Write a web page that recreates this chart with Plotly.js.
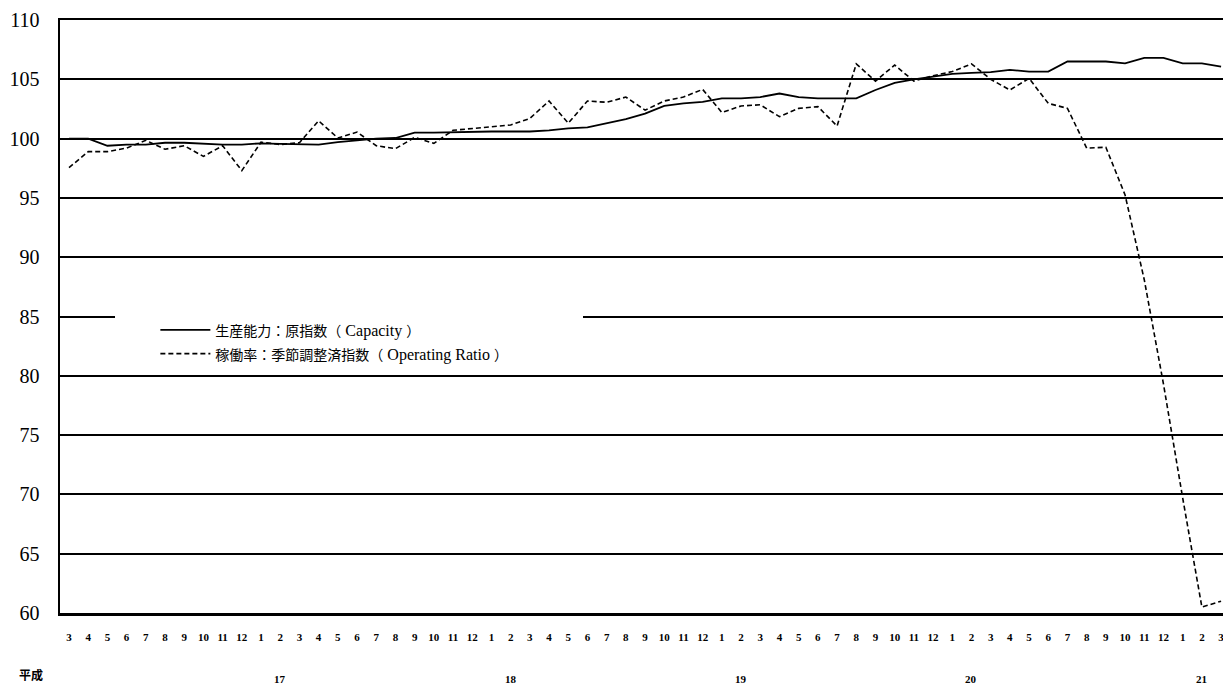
<!DOCTYPE html>
<html><head><meta charset="utf-8">
<script src="https://cdn.plot.ly/plotly-3.0.1.min.js"></script>
<style>html,body{margin:0;padding:0;background:#fff}</style>
</head><body><div id="chart" style="width:1223px;height:684px"></div>
<script>
// Month tick labels: 平成16年3月 ... 平成21年3月
const months = [3,4,5,6,7,8,9,10,11,12,
  1,2,3,4,5,6,7,8,9,10,11,12,
  1,2,3,4,5,6,7,8,9,10,11,12,
  1,2,3,4,5,6,7,8,9,10,11,12,
  1,2,3,4,5,6,7,8,9,10,11,12,
  1,2,3];
const yearLabels = ["17","18","19","20","21"];
const eraLabel = "平成";

const capacity = [100.0,100.0,99.4,99.5,99.5,99.65,99.65,99.55,99.5,99.5,
  99.6,99.55,99.5,99.5,99.7,99.85,100.0,100.05,100.5,100.5,
  100.55,100.6,100.6,100.6,100.6,100.7,100.87,100.95,101.3,101.65,
  102.1,102.75,102.97,103.1,103.4,103.4,103.5,103.8,103.5,103.4,
  103.4,103.4,104.1,104.7,105.0,105.2,105.45,105.55,105.6,105.8,
  105.65,105.65,106.5,106.5,106.5,106.35,106.8,106.8,106.35,106.35,106.07];

const operating = [97.55,98.9,98.9,99.2,99.85,99.1,99.4,98.5,99.4,97.3,
  99.7,99.5,99.65,101.5,100.05,100.55,99.4,99.15,100.1,99.6,
  100.7,100.85,101.0,101.15,101.7,103.17,101.3,103.17,103.06,103.5,
  102.4,103.17,103.5,104.15,102.2,102.75,102.85,101.85,102.55,102.7,
  101.06,106.3,104.85,106.2,104.85,105.3,105.65,106.3,105.0,104.1,
  105.08,102.97,102.55,99.2,99.27,95.25,88.1,79.3,69.7,60.5,61.0];

const yTicks = [60,65,70,75,80,85,90,95,100,105,110];

const cjk = s => '<span style="font-family:Noto Sans CJK JP;font-size:14px">' + s + '</span>';
const nameCapacity = cjk('生産能力：原指数（') + ' Capacity ' + cjk('）');
const nameOperating = cjk('稼働率：季節調整済指数（') + ' Operating Ratio ' + cjk('）');

const xIdx = months.map((m, i) => i);
const yearPos = [];
months.forEach((m, i) => { if (m === 1) yearPos.push(i + 1); });

const traces = [
  {x: xIdx, y: capacity, type: 'scatter', mode: 'lines', name: nameCapacity,
   line: {color: '#000', width: 1.8}},
  {x: xIdx, y: operating, type: 'scatter', mode: 'lines', name: nameOperating,
   line: {color: '#000', width: 1.6, dash: '5px,3px'}}
];

const annotations = yearLabels.map((t, k) => ({
  x: yearPos[k], xref: 'x', y: -0.111, yref: 'paper', text: t, showarrow: false,
  font: {family: 'Liberation Serif', size: 11, weight: 'bold', color: '#000'},
  xanchor: 'center', yanchor: 'middle'
}));
annotations.push({
  x: -0.025, xref: 'paper', y: -0.104, yref: 'paper', text: eraLabel, showarrow: false,
  font: {family: 'Noto Sans CJK JP', size: 12, weight: 'bold', color: '#000'},
  xanchor: 'center', yanchor: 'middle'
});

const layout = {
  width: 1223, height: 684,
  margin: {l: 60, r: 0, t: 20, b: 71, pad: 0},
  paper_bgcolor: '#fff', plot_bgcolor: '#fff',
  showlegend: true,
  legend: {x: 0.082, y: 0.506, xanchor: 'left', yanchor: 'top',
    bgcolor: 'rgba(0,0,0,0)', borderwidth: 0, itemwidth: 50, tracegroupgap: 0,
    font: {family: 'Liberation Serif', size: 16, color: '#000'}},
  xaxis: {range: [-0.469, 60.1], tickmode: 'array', tickvals: xIdx, ticktext: months.map(String),
    showgrid: false, zeroline: false, showline: true, mirror: true, linecolor: '#000', linewidth: 2.5,
    ticks: '', ticklabelstandoff: 12, ticklabeloverflow: 'allow',
    tickfont: {family: 'Liberation Serif', size: 11, weight: 'bold', color: '#000'}},
  yaxis: {range: [60, 110], tickmode: 'array', tickvals: yTicks,
    showgrid: true, gridcolor: '#000', gridwidth: 2, zeroline: false,
    showline: true, linecolor: '#000', linewidth: 2.5, ticks: '', ticklabelstandoff: 14,
    tickfont: {family: 'Liberation Serif', size: 20, color: '#000'}},
  shapes: [{type: 'rect', layer: 'above', xref: 'paper', yref: 'y',
    x0: 0.0473, x1: 0.4497, y0: 84.2, y1: 85.8, fillcolor: '#fff', line: {width: 0}}],
  annotations: annotations
};

Plotly.newPlot('chart', traces, layout, {staticPlot: true, displayModeBar: false});
</script></body></html>
